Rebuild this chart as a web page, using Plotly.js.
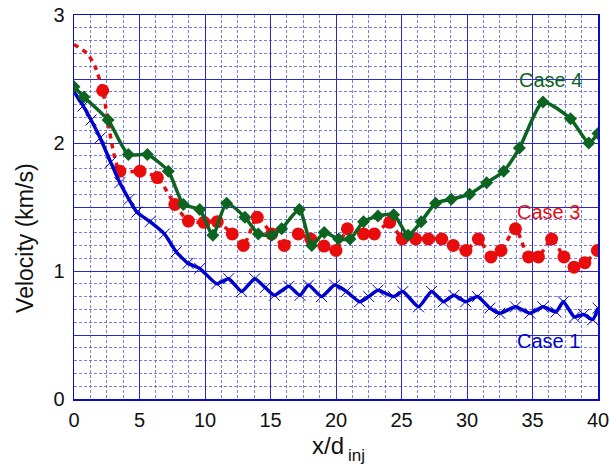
<!DOCTYPE html>
<html>
<head>
<meta charset="utf-8">
<script src="https://cdn.plot.ly/plotly-3.0.1.min.js"></script>
<style>
  html, body { margin: 0; padding: 0; background: #fff; }
  #chart { width: 610px; height: 464px; }
</style>
</head>
<body>
<div id="chart"></div>
<script>
// Axial velocity decay downstream of the injector, three cases.

// Case 1 (blue, x markers)
const caseOneX = [0, 0.7, 1.3, 2.0, 2.8, 3.5, 4.2, 4.8, 5.8, 6.9, 7.8, 8.7, 9.6, 10.9, 11.8, 12.8, 13.8,
  14.6, 15.3, 16.4, 17.25, 17.9, 18.9, 19.9, 20.8, 21.8, 22.5, 23.2, 24.4, 25.1, 26.3, 27.3, 28.2,
  29.0, 29.9, 30.8, 31.75, 32.5, 33.7, 34.8, 35.8, 36.8, 37.35, 38.2, 38.9, 39.6, 40];
const caseOneY = [2.40, 2.29, 2.18, 2.04, 1.85, 1.69, 1.56, 1.46, 1.385, 1.29, 1.15, 1.06, 1.02, 0.90, 0.94, 0.84, 0.94,
  0.87, 0.81, 0.88, 0.81, 0.89, 0.80, 0.89, 0.84, 0.76, 0.80, 0.85, 0.80, 0.84, 0.72, 0.84, 0.76,
  0.81, 0.76, 0.80, 0.71, 0.67, 0.72, 0.67, 0.72, 0.68, 0.76, 0.64, 0.66, 0.62, 0.71];

// Case 3 (red, circles on a dotted line); the inlet part of the line has no samples
const caseThreeInletX = [0, 1.0, 1.6];
const caseThreeInletY = [2.77, 2.70, 2.60];
const caseThreeX = [2.19, 3.5, 5.04, 6.36, 7.7, 8.73, 9.92, 10.94, 12.08, 12.93, 13.99, 15.09, 16.05, 17.12,
  18.07, 19.08, 20.0, 20.87, 22.1, 22.93, 24.1, 25.06, 26.08, 27.05, 28.07, 28.95, 29.92, 30.87,
  31.83, 32.6, 33.7, 34.7, 35.45, 36.46, 37.4, 38.17, 39.0, 39.95];
const caseThreeY = [2.41, 1.78, 1.78, 1.73, 1.52, 1.39, 1.38, 1.385, 1.29, 1.20, 1.42, 1.29, 1.20, 1.29,
  1.25, 1.195, 1.16, 1.33, 1.29, 1.29, 1.38, 1.25, 1.25, 1.25, 1.25, 1.20, 1.16, 1.25,
  1.11, 1.16, 1.33, 1.11, 1.11, 1.25, 1.11, 1.03, 1.065, 1.16];

// Case 4 (green, diamonds)
const caseFourX = [0, 0.76, 2.6, 4.15, 5.6, 7.2, 8.35, 9.6, 10.6, 11.65, 13.05, 14.07, 15.1, 15.85, 17.2,
  18.15, 19.1, 20.2, 21.07, 22.1, 23.2, 24.4, 25.5, 26.5, 27.6, 28.8, 30.2, 31.5, 32.8, 34.0,
  35.8, 37.9, 39.3, 40];
const caseFourY = [2.44, 2.36, 2.18, 1.91, 1.91, 1.78, 1.52, 1.48, 1.28, 1.53, 1.42, 1.29, 1.28, 1.33, 1.48,
  1.20, 1.30, 1.25, 1.25, 1.385, 1.43, 1.44, 1.28, 1.385, 1.53, 1.56, 1.60, 1.69, 1.78, 1.96,
  2.32, 2.19, 2.00, 2.075];

// Axis ticks
const xTickVals = [0, 5, 10, 15, 20, 25, 30, 35, 40];
const xTickText = ['0', '5', '10', '15', '20', '25', '30', '35', '40'];
const yTickVals = [0, 0.5, 1, 1.5, 2, 2.5, 3];
const yTickText = ['0', '', '1', '', '2', '', '3'];

const BLUE = 'rgb(0,0,205)';
const RED = 'rgb(232,12,12)';
const GREEN = 'rgb(12,100,32)';
const FONT = '"Liberation Sans", Arial, Helvetica, sans-serif';

const traces = [
  {
    x: caseThreeInletX.concat(caseThreeX),
    y: caseThreeInletY.concat(caseThreeY),
    mode: 'lines',
    line: { color: RED, width: 3.5, dash: '5px,5px', shape: 'spline', smoothing: 0.6 },
    hoverinfo: 'skip'
  },
  {
    x: caseThreeX, y: caseThreeY,
    mode: 'markers',
    marker: { color: RED, size: 13, symbol: 'circle' },
    name: 'Case 3'
  },
  {
    x: caseOneX, y: caseOneY,
    mode: 'lines+markers',
    line: { color: BLUE, width: 3.5, shape: 'spline', smoothing: 0.5 },
    marker: { symbol: 'x-thin-open', size: 11, color: BLUE, line: { color: 'rgb(40,40,220)', width: 1 } },
    name: 'Case 1'
  },
  {
    x: caseFourX, y: caseFourY,
    mode: 'lines+markers',
    line: { color: GREEN, width: 3.5, shape: 'spline', smoothing: 0.6 },
    marker: { symbol: 'diamond', size: 10, color: GREEN },
    name: 'Case 4'
  }
];

const axisCommon = {
  showline: true, mirror: true, linecolor: 'rgb(10,10,200)', linewidth: 1.5,
  showgrid: true, gridcolor: 'rgb(40,40,205)', gridwidth: 1,
  zeroline: false, ticks: '', fixedrange: true,
  tickfont: { family: FONT, size: 20, color: '#111' }
};

const layout = {
  width: 610, height: 464,
  margin: { l: 74, r: 12, t: 15, b: 65 },
  paper_bgcolor: '#fff', plot_bgcolor: '#fff',
  showlegend: false,
  font: { family: FONT },
  xaxis: Object.assign({}, axisCommon, {
    range: [0, 40], tickmode: 'array', tickvals: xTickVals, ticktext: xTickText,
    ticklabelstandoff: 2,
    minor: { dtick: 1.25, tick0: 0, showgrid: true, gridcolor: 'rgba(80,80,230,0.75)', griddash: '3px,2px', gridwidth: 1 }
  }),
  yaxis: Object.assign({}, axisCommon, {
    range: [0, 3], tickmode: 'array', tickvals: yTickVals, ticktext: yTickText,
    ticklabelstandoff: 4,
    minor: { dtick: 0.1, tick0: 0, showgrid: true, gridcolor: 'rgba(80,80,230,0.75)', griddash: '3px,2px', gridwidth: 1 }
  }),
  annotations: [
    { xref: 'paper', yref: 'paper', x: -0.095, y: 0.42, text: 'Velocity (km/s)', textangle: -90,
      showarrow: false, font: { family: FONT, size: 23, color: '#111' }, xanchor: 'center', yanchor: 'middle' },
    { xref: 'paper', yref: 'paper', x: 0.52, y: -0.08, text: 'x/d', showarrow: false,
      font: { family: FONT, size: 24, color: '#111' }, xanchor: 'right', yanchor: 'top' },
    { xref: 'paper', yref: 'paper', x: 0.52, y: -0.118, text: 'inj', showarrow: false,
      font: { family: FONT, size: 17, color: '#111' }, xanchor: 'left', yanchor: 'top' },
    { x: 36.4, y: 2.49, text: 'Case 4', showarrow: false, font: { family: FONT, size: 20, color: GREEN } },
    { x: 36.2, y: 1.46, text: 'Case 3', showarrow: false, font: { family: FONT, size: 20, color: RED } },
    { x: 36.2, y: 0.45, text: 'Case 1', showarrow: false, font: { family: FONT, size: 20, color: BLUE } }
  ]
};

Plotly.newPlot('chart', traces, layout, { staticPlot: true, displayModeBar: false });
</script>
</body>
</html>
